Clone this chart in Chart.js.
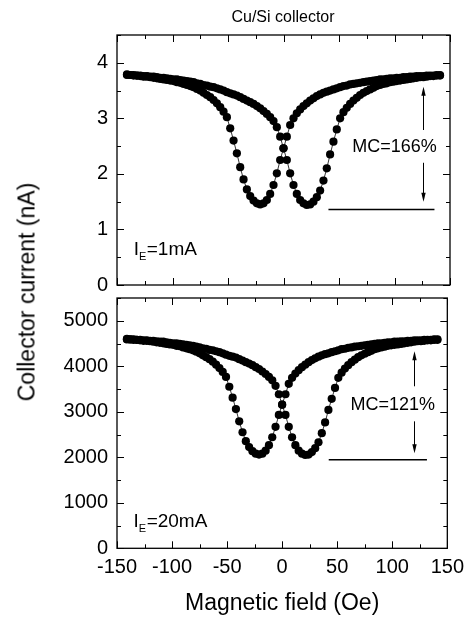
<!DOCTYPE html>
<html>
<head>
<meta charset="utf-8">
<script src="https://cdn.jsdelivr.net/npm/chart.js@4.4.0/dist/chart.umd.min.js"></script>
<style>
  body { margin: 0; background: #fff; font-family: "Liberation Sans", Arial, sans-serif; }
  #wrap { position: relative; width: 471px; height: 617px; overflow: hidden; }
  canvas { position: absolute; left: 0; }
  #topChart { top: 0; }
  #botChart { top: 270px; }
  .lbl { position: absolute; white-space: nowrap; color: #000; }
  #title { left: 283px; top: 17px; font-size: 16px; transform: translate(-50%, -50%); }
  #yTitle { left: 27px; top: 292px; font-size: 23px; transform: translate(-50%, -50%) rotate(-90deg); }
</style>
</head>
<body>
<div id="wrap">
  <canvas id="topChart" width="471" height="310"></canvas>
  <canvas id="botChart" width="471" height="347"></canvas>
  <div class="lbl" id="title">Cu/Si collector</div>
  <div class="lbl" id="yTitle">Collector current (nA)</div>
</div>
<script>
const FONT = '"Liberation Sans", Arial, Helvetica, sans-serif';
Chart.defaults.font.family = FONT;
Chart.defaults.color = '#000';

/* ================= DATA ================= */
const field = [-141,-138,-135,-132,-129,-126,-123,-120,-117,-114,-111,-108,-105,-102,-99,-96,-93,-90,-87,-84,
  -81,-78,-75,-72,-69,-66,-63,-60,-57,-54,-51,-48,-45,-42,-39,-36,-33,-30,-27,-24,-21,-18,-15,-12,-9,-6,-3,0,
  3,6,9,12,15,18,21,24,27,30,33,36,39,42,45,48,51,54,57,60,63,66,69,72,75,78,81,84,87,90,93,96,99,102,105,108,
  111,114,117,120,123,126,129,132,135,138,141];

// I_E = 1 mA, collector current in nA
const topA = [3.78,3.78,3.77,3.77,3.76,3.75,3.75,3.74,3.73,3.72,3.71,3.70,3.69,3.68,3.67,3.65,3.64,3.62,3.60,3.58,
  3.56,3.53,3.50,3.46,3.42,3.38,3.33,3.27,3.20,3.12,3.02,2.82,2.60,2.37,2.12,1.90,1.72,1.60,1.52,1.47,1.45,1.47,1.53,1.64,1.80,2.01,2.25,2.46,
  2.67,2.88,3.00,3.09,3.16,3.22,3.27,3.32,3.36,3.40,3.43,3.46,3.48,3.50,3.52,3.54,3.56,3.58,3.59,3.61,3.62,3.63,3.64,3.65,3.66,3.67,3.68,3.69,3.70,3.70,3.71,3.72,3.72,3.73,3.73,3.74,
  3.74,3.75,3.75,3.76,3.76,3.76,3.77,3.77,3.77,3.78,3.78];
const topB = [3.79,3.78,3.78,3.77,3.77,3.76,3.76,3.75,3.75,3.74,3.73,3.73,3.72,3.71,3.70,3.70,3.69,3.68,3.67,3.66,
  3.65,3.63,3.62,3.60,3.59,3.57,3.56,3.54,3.52,3.50,3.47,3.45,3.43,3.41,3.38,3.35,3.32,3.29,3.26,3.22,3.18,3.13,3.08,3.02,2.95,2.84,2.67,2.46,
  2.25,2.01,1.80,1.64,1.53,1.47,1.44,1.45,1.50,1.58,1.70,1.88,2.10,2.35,2.58,2.80,3.00,3.11,3.19,3.26,3.32,3.37,3.42,3.46,3.49,3.52,3.55,3.58,3.60,3.62,3.63,3.65,3.66,3.67,3.68,3.69,
  3.70,3.71,3.72,3.73,3.74,3.74,3.75,3.76,3.76,3.77,3.77];

// I_E = 20 mA
const botA = [4590,4590,4580,4580,4570,4560,4560,4550,4540,4525,4515,4505,4490,4480,4470,4450,4440,4415,4395,4375,
  4350,4320,4285,4240,4200,4155,4100,4035,3960,3875,3765,3550,3310,3060,2790,2550,2355,2225,2135,2080,2060,2080,2145,2265,2440,2670,2930,3155,
  3385,3615,3745,3840,3915,3980,4035,4090,4135,4175,4210,4240,4265,4285,4310,4330,4350,4375,4385,4405,4415,4430,4440,4450,4460,4470,4480,4490,4505,4505,4515,4525,4525,4540,4540,4550,
  4550,4560,4560,4570,4570,4570,4580,4580,4580,4590,4590];
const botB = [4600,4590,4590,4580,4580,4570,4570,4560,4560,4550,4540,4540,4525,4515,4505,4505,4490,4480,4470,4460,
  4450,4430,4415,4395,4385,4360,4350,4330,4310,4285,4255,4230,4210,4190,4155,4125,4090,4060,4025,3980,3940,3885,3830,3765,3690,3570,3385,3155,
  2930,2670,2440,2265,2145,2080,2050,2060,2115,2200,2330,2530,2765,3040,3285,3525,3745,3860,3950,4025,4090,4145,4200,4240,4275,4310,4340,4375,4395,4415,4430,4450,4460,4470,4480,4490,
  4505,4515,4525,4540,4550,4550,4560,4570,4570,4580,4580];

const xTicks = [-150, -100, -50, 0, 50, 100, 150];
const topYTicks = [0, 1, 2, 3, 4];
const botYTicks = [0, 1000, 2000, 3000, 4000, 5000];

/* ================= PLUGINS ================= */
const frame = {
  id: 'frame',
  afterDraw(chart, args, o) {
    const { ctx, chartArea: a, scales: { x, y } } = chart;
    ctx.save();
    ctx.strokeStyle = '#000';
    ctx.lineWidth = 1.3;
    ctx.strokeRect(a.left, a.top, a.right - a.left, a.bottom - a.top);
    ctx.lineWidth = 1;
    ctx.beginPath();
    for (let v = x.min; v <= x.max + 1e-9; v += o.xMinor) {
      const px = Math.round(x.getPixelForValue(v)) + 0.5;
      const len = Math.abs(v % o.xMajor) < 1e-6 ? 7 : 4;
      ctx.moveTo(px, a.bottom); ctx.lineTo(px, a.bottom - len);
      ctx.moveTo(px, a.top); ctx.lineTo(px, a.top + len);
    }
    for (let v = y.min; v <= y.max + 1e-9; v += o.yMinor) {
      const py = Math.round(y.getPixelForValue(v)) + 0.5;
      const len = Math.abs(v % o.yMajor) < 1e-6 ? 7 : 4;
      ctx.moveTo(a.left, py); ctx.lineTo(a.left + len, py);
      ctx.moveTo(a.right, py); ctx.lineTo(a.right - len, py);
    }
    ctx.stroke();
    ctx.restore();
  }
};

function arrow(ctx, x, yFrom, yTo) {
  const dir = yTo < yFrom ? -1 : 1;
  ctx.beginPath();
  ctx.moveTo(x, yFrom); ctx.lineTo(x, yTo - dir * 6);
  ctx.stroke();
  ctx.beginPath();
  ctx.moveTo(x, yTo);
  ctx.lineTo(x - 2.2, yTo - dir * 9);
  ctx.lineTo(x + 2.2, yTo - dir * 9);
  ctx.closePath();
  ctx.fill();
}

const marks = {
  id: 'marks',
  afterDatasetsDraw(chart, args, o) {
    const { ctx, scales: { x, y } } = chart;
    const X = v => x.getPixelForValue(v), Y = v => y.getPixelForValue(v);
    ctx.save();
    ctx.strokeStyle = '#000';
    ctx.fillStyle = '#000';

    ctx.lineWidth = 1.5;
    ctx.beginPath();
    ctx.moveTo(X(o.base[0]), Y(o.base[2]));
    ctx.lineTo(X(o.base[1]), Y(o.base[2]));
    ctx.stroke();

    ctx.lineWidth = 1;
    const ax = Math.round(X(o.arrow[0])) + 0.5;
    arrow(ctx, ax, Y(o.arrow[2]), Y(o.arrow[1]));
    arrow(ctx, ax, Y(o.arrow[3]), Y(o.arrow[4]));

    ctx.font = '18px ' + FONT;
    ctx.textBaseline = 'middle';
    ctx.fillText(o.mc[2], X(o.mc[0]), Y(o.mc[1]));

    ctx.textBaseline = 'alphabetic';
    let px = X(o.ie[0]);
    const py = Y(o.ie[1]);
    ctx.font = '19px ' + FONT;
    ctx.fillText('I', px, py);
    px += ctx.measureText('I').width;
    ctx.font = '11px ' + FONT;
    ctx.fillText('E', px, py + 5);
    px += ctx.measureText('E').width + 0.5;
    ctx.font = '19px ' + FONT;
    ctx.fillText(o.ie[2], px, py);
    ctx.restore();
  }
};

/* ================= CHARTS ================= */
const series = vals => ({
  data: field.map((f, i) => ({ x: f, y: vals[i] })),
  showLine: true,
  borderColor: '#000',
  borderWidth: 0.8,
  pointRadius: 4.1,
  pointBorderWidth: 0,
  pointBackgroundColor: '#000'
});

const setTicks = list => s => { s.ticks = list.map(v => ({ value: v })); };
const noGrid = { display: false, drawTicks: false };

new Chart(document.getElementById('topChart'), {
  type: 'scatter',
  data: { datasets: [series(topA), series(topB)] },
  plugins: [frame, marks],
  options: {
    responsive: false,
    animation: false,
    devicePixelRatio: 1,
    layout: { padding: { top: 35, right: 21, bottom: 25, left: 0 } },
    plugins: {
      legend: { display: false },
      tooltip: { enabled: false },
      frame: { xMinor: 25, xMajor: 50, yMinor: 0.5, yMajor: 1 },
      marks: {
        base: [40.5, 136, 1.36],
        arrow: [125.5, 3.57, 2.79, 2.2, 1.5],
        mc: [62, 2.49, 'MC=166%'],
        ie: [-135, 0.54, '=1mA']
      }
    },
    scales: {
      x: {
        type: 'linear', min: -150, max: 150,
        afterBuildTicks: setTicks(xTicks),
        afterFit(s) { s.height = 0; },
        grid: noGrid, border: { display: false },
        ticks: { display: false }
      },
      y: {
        min: 0, max: 4.5,
        afterBuildTicks: setTicks(topYTicks),
        afterFit(s) { s.width = 117; },
        grid: noGrid, border: { display: false },
        ticks: { padding: 9, font: { size: 20 }, callback: v => String(v) }
      }
    }
  }
});

new Chart(document.getElementById('botChart'), {
  type: 'scatter',
  data: { datasets: [series(botA), series(botB)] },
  plugins: [frame, marks],
  options: {
    responsive: false,
    animation: false,
    devicePixelRatio: 1,
    layout: { padding: { top: 28, right: 21, bottom: 0, left: 0 } },
    plugins: {
      legend: { display: false },
      tooltip: { enabled: false },
      frame: { xMinor: 25, xMajor: 50, yMinor: 500, yMajor: 1000 },
      marks: {
        base: [42.3, 131.5, 1945],
        arrow: [119.5, 4330, 3560, 2790, 2090],
        mc: [62, 3156, 'MC=121%'],
        ie: [-135, 469, '=20mA']
      }
    },
    scales: {
      x: {
        type: 'linear', min: -150, max: 150,
        afterBuildTicks: setTicks(xTicks),
        afterFit(s) { s.height = 68.7; },
        grid: noGrid, border: { display: false },
        ticks: { padding: 7, autoSkip: false, maxRotation: 0, font: { size: 20 }, callback: v => String(v) },
        title: { display: true, text: 'Magnetic field (Oe)', font: { size: 23 }, padding: 0 }
      },
      y: {
        min: 0, max: 5500,
        afterBuildTicks: setTicks(botYTicks),
        afterFit(s) { s.width = 117; },
        grid: noGrid, border: { display: false },
        ticks: { padding: 9, font: { size: 20 }, callback: v => String(v) }
      }
    }
  }
});
</script>
</body>
</html>
